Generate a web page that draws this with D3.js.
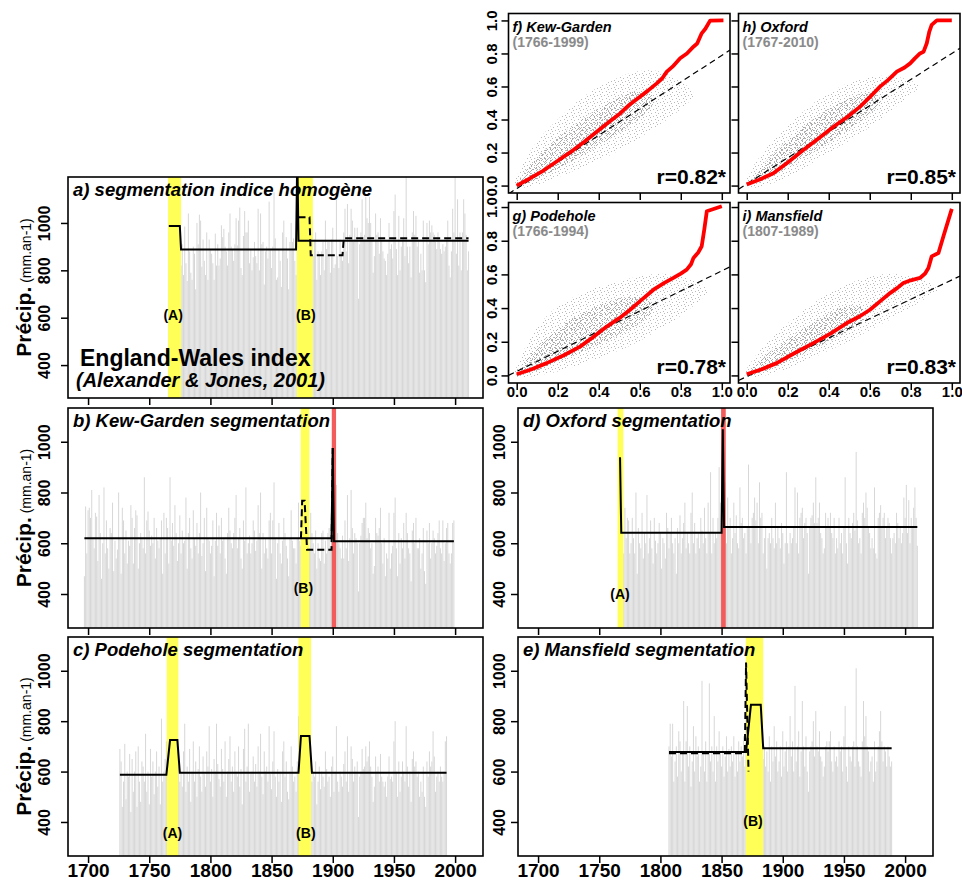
<!DOCTYPE html>
<html><head><meta charset="utf-8">
<script src="https://cdn.jsdelivr.net/npm/d3@7"></script>
<style>body{margin:0;background:#fff}svg{display:block}text{font-family:"Liberation Sans",Arial,Helvetica,sans-serif}</style>
</head><body><svg id="c" width="962" height="889"></svg>
<script>
// ---------------- DATA ----------------
const yearTicks = [1700, 1750, 1800, 1850, 1900, 1950, 2000];
const precipTicks = [400, 600, 800, 1000];
const probTicks = [0, 0.2, 0.4, 0.6, 0.8, 1.0];

// England-Wales index, annual precipitation (mm), 1766-2011
const ewStart = 1766;
const ewPrecip = [
960,1010,1075,990,1040,880,1020,1000,935,960,
820,910,780,985,830,755,1040,880,790,760,
900,870,720,1000,910,1035,1010,815,930,840,
780,960,760,930,885,870,830,760,955,820,
910,820,850,990,940,975,900,880,820,960,
1040,900,890,840,910,1020,905,1010,1065,810,
780,945,1050,960,960,1010,830,890,800,855,
920,860,830,1060,800,1040,910,920,740,880,
900,850,1090,890,810,900,1130,935,760,770,
890,840,730,960,1010,880,940,850,720,920,
1000,920,935,840,780,1290,1150,1010,960,1060,
990,1120,960,990,1040,930,1110,1010,860,930,
960,760,880,870,780,880,920,800,1010,890,
920,920,790,930,980,810,825,1100,860,810,
930,870,840,960,1060,880,1080,830,950,1060,
1010,920,980,940,980,680,910,960,1100,940,
950,1110,1020,1000,1110,1000,930,790,860,1040,
950,960,870,1020,930,880,850,840,780,870,
1000,890,910,850,1050,1120,890,780,1030,800,
900,930,1020,860,1200,900,830,900,770,960,
1050,950,1030,900,930,790,870,800,1010,800,
750,1000,910,1010,960,990,960,950,920,890,
960,920,890,870,910,880,900,930,1010,820,
770,880,1060,960,1230,870,1100,820,960,800,
960,1100,1040,950,800,880];
const ewSolid = [[1766,987],[1775,987],[1776,888],[1870,888],[1871,1290],[1872,925],[2011,925]];
const ewDashed = [[1872,1024],[1881,1024],[1882,864],[1908,864],[1909,935],[2011,935]];
const ewYellow = [[1765.4,1776],[1870.6,1883.7]];
const ewRed = [];
const ewLabels = [["(A)",1769.5,611],["(B)",1878,611]];

// Kew-Garden, 1697-1999
const kewStart = 1697;
const kewPrecip = [
470,745,560,730,740,700,810,620,580,720,
705,530,790,640,460,600,820,560,690,580,
500,660,640,760,490,610,540,575,800,620,
480,740,690,560,650,520,610,590,750,700,
520,660,730,710,500,600,640,620,580,860,
560,690,725,650,590,630,600,700,540,660,
610,580,620,690,480,720,560,700,660,520,
860,610,680,590,750,640,530,600,710,560,
650,600,610,780,500,640,700,580,540,730,
620,590,680,560,640,800,550,600,700,490,
740,620,610,560,590,690,470,610,720,590,
670,560,700,610,620,540,480,640,740,650,
600,580,640,700,790,580,620,660,540,500,
690,610,820,560,600,630,560,600,690,650,
570,610,750,640,800,500,640,560,620,580,
540,690,720,560,690,840,620,460,600,680,
560,520,610,700,640,590,540,470,620,730,
610,580,580,520,620,760,610,590,760,780,
760,610,650,710,580,720,640,600,560,650,
500,600,540,530,640,650,520,610,560,640,
660,580,650,975,610,490,830,640,600,580,
540,630,540,690,580,790,530,620,810,660,
560,640,620,600,410,600,630,680,700,700,
760,620,660,640,580,600,480,510,700,640,
630,660,740,600,520,620,470,560,540,720,
500,560,590,720,780,580,470,640,520,620,
580,680,540,720,640,580,560,450,650,680,
600,700,580,580,620,500,560,660,490,440,
650,600,680,540,600,650,620,560,590,640,
690,580,560,690,530,600,660,680,560,520,
560,680,690];
const kewSolid = [[1697,620],[1899,620],[1900,975],[1901,608],[1999,608]];
const kewDashed = [[1874,620],[1875,767],[1877,767],[1879,574],[1899,574],[1900,975]];
const kewYellow = [[1873.8,1880.9]];
const kewRed = [[1899.2,1902.7]];
const kewLabels = [["(B)",1876,425]];

// Podehole, 1726-1993
const podStart = 1726;
const podPrecip = [
690,640,460,560,710,490,600,580,670,440,
650,520,600,680,460,700,560,480,640,620,
560,750,520,600,470,690,580,640,510,600,
680,540,620,470,810,560,600,650,720,560,
700,780,870,720,690,760,640,730,620,560,
590,540,680,790,520,620,560,690,480,600,
720,560,640,500,610,700,580,520,660,590,
540,680,620,780,560,610,500,650,600,790,
630,570,540,690,610,560,720,500,600,650,
740,560,620,520,680,600,580,700,540,610,
470,690,770,560,620,790,520,590,600,660,
560,630,540,700,600,750,580,510,680,600,
620,560,780,590,530,640,760,580,500,610,
560,600,480,680,720,580,640,520,490,600,
700,620,560,580,520,640,820,690,760,830,
720,950,800,760,720,640,700,560,600,580,
640,470,560,620,530,600,580,540,680,610,
560,580,500,620,660,520,600,780,560,520,
600,580,540,630,680,560,740,520,600,700,
650,560,620,600,640,420,580,600,690,610,
620,700,640,660,720,620,580,480,540,660,
600,620,560,670,580,560,540,560,500,580,
660,570,580,560,720,800,600,500,640,520,
580,640,600,560,780,620,540,600,480,650,
680,620,640,580,600,500,560,520,620,500,
460,640,580,680,620,640,760,660,520,580,
600,560,620,580,560,600,720,740];
const podSolid = [[1726,587],[1764,587],[1767,725],[1773,725],[1775,595],[1872,595],[1874,741],[1881,741],[1883,595],[1993,595]];
const podDashed = [];
const podYellow = [[1764.3,1773.8],[1872,1882.3]];
const podRed = [];
const podLabels = [["(A)",1769,354],["(B)",1878,354]];

// Oxford, 1767-2010
const oxStart = 1767;
const oxPrecip = [
940,650,780,560,740,620,700,690,560,600,
700,620,560,800,480,660,600,580,720,540,
640,600,790,560,620,690,580,520,700,610,
560,600,680,640,500,620,600,540,720,660,
580,640,700,600,560,620,480,660,600,710,
560,620,680,760,580,640,600,560,720,800,
600,680,560,620,640,580,700,650,600,740,
620,560,760,640,880,560,700,600,640,620,
700,900,760,580,1050,760,840,600,780,660,
700,560,620,760,640,710,600,580,820,680,
700,620,640,560,660,910,660,600,700,720,
780,690,760,600,840,700,720,560,620,660,
500,620,640,600,700,620,580,760,600,660,
620,580,680,640,520,600,880,600,560,640,
600,620,660,820,600,800,560,700,720,740,
620,680,700,640,480,660,700,710,760,680,
860,680,700,760,640,620,560,580,720,660,
700,660,720,640,620,700,560,620,580,700,
600,640,560,660,860,600,520,700,640,620,
680,720,650,960,690,600,620,560,720,760,
700,800,740,660,640,580,620,580,820,560,
540,700,720,750,660,700,720,620,660,700,
680,620,560,620,640,600,720,680,620,660,
600,640,780,700,830,640,770,600,700,660,
740,820,700,590];
const oxSolid = [[1767,939],[1768,641],[1850,641],[1851,1049],[1852,664],[2010,664]];
const oxDashed = [];
const oxYellow = [[1765,1769.7]];
const oxRed = [[1849.6,1853.4]];
const oxLabels = [["(A)",1767,399]];

// Mansfield, 1807-1989
const manStart = 1807;
const manPrecip = [
700,790,660,790,560,640,700,580,760,720,
600,680,880,560,720,860,620,700,540,640,
780,600,740,660,700,560,620,960,680,600,
720,560,680,950,640,700,600,820,560,700,
640,760,680,620,700,580,660,740,600,690,
620,700,640,740,580,680,600,720,640,700,
660,740,620,1030,600,610,760,900,860,820,
940,800,880,840,900,870,720,650,700,620,
680,600,740,560,700,640,780,660,720,600,
640,700,580,760,620,680,720,600,700,820,
660,720,600,940,640,700,760,580,680,880,
700,620,740,600,520,680,700,720,800,660,
840,700,680,760,660,640,580,620,700,720,
680,720,760,640,600,700,640,660,620,720,
680,700,600,740,860,620,560,700,660,640,
700,720,620,1010,700,640,620,580,720,880,
740,820,700,680,600,640,660,560,720,600,
640,700,760,840,720,640,700,680,620,700,
660,620,640];
const manSolid = [[1807,678],[1870,678],[1874,865],[1882,865],[1884,693],[1989,693]];
const manDashed = [[1807,673],[1869,673],[1870,1033],[1872,600]];
const manYellow = [[1869.8,1884]];
const manRed = [];
const manLabels = [["(B)",1875.7,404]];

// Scatter / quantile panels: red curves (x, y)
const kewCurve = [[0,0],[0.06,0.04],[0.122,0.084],[0.2,0.15],[0.276,0.215],[0.33,0.265],[0.39,0.326],[0.45,0.385],[0.504,0.437],[0.55,0.49],[0.601,0.538],[0.64,0.575],[0.683,0.619],[0.71,0.65],[0.732,0.69],[0.76,0.72],[0.797,0.771],[0.83,0.8],[0.862,0.841],[0.88,0.86],[0.902,0.922],[0.92,0.95],[0.943,0.999],[1.008,1.0]];
const oxCurve = [[0,0.007],[0.06,0.035],[0.13,0.074],[0.2,0.14],[0.276,0.215],[0.35,0.285],[0.423,0.356],[0.49,0.415],[0.553,0.478],[0.6,0.535],[0.65,0.599],[0.69,0.64],[0.732,0.69],[0.77,0.715],[0.797,0.74],[0.82,0.77],[0.845,0.8],[0.862,0.81],[0.878,0.862],[0.89,0.93],[0.902,0.973],[0.927,1.0],[1.0,1.0]];
const podCurve = [[0,0.007],[0.07,0.035],[0.146,0.073],[0.23,0.12],[0.309,0.171],[0.37,0.225],[0.439,0.29],[0.5,0.34],[0.553,0.39],[0.61,0.45],[0.667,0.509],[0.72,0.55],[0.764,0.579],[0.8,0.605],[0.829,0.628],[0.85,0.66],[0.862,0.698],[0.885,0.73],[0.902,0.767],[0.915,0.87],[0.927,0.975],[1.0,1.005]];
const manCurve = [[0,0.007],[0.07,0.035],[0.146,0.073],[0.23,0.13],[0.325,0.192],[0.41,0.25],[0.488,0.311],[0.55,0.35],[0.601,0.39],[0.65,0.44],[0.699,0.489],[0.735,0.52],[0.764,0.549],[0.8,0.565],[0.845,0.579],[0.87,0.605],[0.886,0.638],[0.902,0.707],[0.935,0.727],[0.96,0.83],[1.0,0.989]];
// dashed reference lines [intercept, slope]
const kewFit = [-0.018, 0.806];
const oxFit = [0.01, 0.79];
const podFit = [0.024, 0.597];
const manFit = [-0.007, 0.574];
// point clouds, envelopes [x, low, high]
const kewCloudOuter = [[-0.01,0.0,0.02],[0.02,-0.02,0.12],[0.1,0.0,0.28],[0.2,0.05,0.4],[0.3,0.1,0.52],[0.4,0.15,0.6],[0.5,0.21,0.66],[0.6,0.29,0.7],[0.7,0.37,0.7],[0.8,0.46,0.64],[0.86,0.53,0.57]];
const kewCloudCore = [[0.0,0.01,0.02],[0.04,0.0,0.08],[0.1,0.04,0.18],[0.2,0.1,0.29],[0.3,0.17,0.39],[0.4,0.24,0.47],[0.5,0.32,0.54],[0.6,0.4,0.59],[0.67,0.5,0.54]];
const oxCloudOuter = [[-0.01,0.0,0.02],[0.02,-0.02,0.1],[0.1,0.0,0.24],[0.2,0.05,0.36],[0.3,0.12,0.48],[0.4,0.2,0.56],[0.5,0.27,0.63],[0.6,0.35,0.66],[0.7,0.45,0.67],[0.8,0.55,0.64],[0.84,0.59,0.61]];
const oxCloudCore = [[0.02,0.03,0.04],[0.05,0.01,0.08],[0.1,0.04,0.16],[0.2,0.11,0.28],[0.3,0.18,0.38],[0.4,0.26,0.47],[0.5,0.34,0.53],[0.6,0.43,0.58],[0.65,0.49,0.53]];
const podCloudOuter = [[-0.01,0.0,0.02],[0.02,-0.02,0.12],[0.1,0.0,0.3],[0.2,0.02,0.42],[0.3,0.06,0.48],[0.4,0.1,0.53],[0.5,0.15,0.56],[0.6,0.2,0.59],[0.7,0.28,0.61],[0.8,0.35,0.59],[0.9,0.45,0.55],[0.93,0.49,0.51]];
const podCloudCore = [[0.02,0.03,0.05],[0.05,0.0,0.1],[0.1,0.03,0.18],[0.2,0.08,0.28],[0.3,0.13,0.36],[0.4,0.18,0.42],[0.5,0.24,0.46],[0.6,0.3,0.48],[0.67,0.38,0.43]];
const manCloudOuter = [[-0.01,0.0,0.02],[0.02,-0.02,0.08],[0.1,0.0,0.21],[0.2,0.04,0.31],[0.3,0.09,0.41],[0.4,0.15,0.49],[0.5,0.2,0.55],[0.6,0.27,0.59],[0.7,0.33,0.61],[0.8,0.4,0.59],[0.9,0.48,0.55],[0.93,0.5,0.52]];
const manCloudCore = [[0.02,0.02,0.04],[0.05,0.0,0.07],[0.1,0.03,0.13],[0.2,0.08,0.22],[0.3,0.14,0.3],[0.4,0.2,0.37],[0.5,0.26,0.43],[0.57,0.33,0.4]];

// ---------------- DRAWING ----------------
const svg = d3.select("#c");
const defs = svg.append("defs");
function speckle(id, size, dots, color){
  const p = defs.append("pattern").attr("id",id).attr("width",size).attr("height",size).attr("patternUnits","userSpaceOnUse");
  dots.forEach(d => p.append("rect").attr("x",d[0]).attr("y",d[1]).attr("width",1).attr("height",1).attr("fill",color));
}
speckle("sp7", 7, [[0,1],[4,0],[2,4],[6,5],[5,3]], "#b9b9b9");
speckle("sp5", 5, [[1,0],[4,2],[0,3],[2,4]], "#ababab");
speckle("sp11", 11, [[3,1],[8,2],[0,6],[6,7],[10,9],[2,10],[5,4]], "#a4a4a4");

const yearDomain = [1683.6, 2022.8];

const tsPanels = [
  {id:"a", title:"a) segmentation indice homogène", start:ewStart, values:ewPrecip, solid:ewSolid, dashed:ewDashed, yellow:ewYellow, red:ewRed, labels:ewLabels, box:[68,483,177,398], ydom:[261,1194], ylab:true, xlab:false, tickX:50},
  {id:"b", title:"b) Kew-Garden segmentation", start:kewStart, values:kewPrecip, solid:kewSolid, dashed:kewDashed, yellow:kewYellow, red:kewRed, labels:kewLabels, box:[68,483,408,628], ydom:[266,1133], ylab:true, xlab:false, tickX:50},
  {id:"c", title:"c) Podehole segmentation", start:podStart, values:podPrecip, solid:podSolid, dashed:podDashed, yellow:podYellow, red:podRed, labels:podLabels, box:[68,483,637,856], ydom:[265,1134], ylab:true, xlab:true, tickX:50},
  {id:"d", title:"d) Oxford segmentation", start:oxStart, values:oxPrecip, solid:oxSolid, dashed:oxDashed, yellow:oxYellow, red:oxRed, labels:oxLabels, box:[518,933,408,628], ydom:[266,1133], ylab:false, xlab:false, tickX:505},
  {id:"e", title:"e) Mansfield segmentation", start:manStart, values:manPrecip, solid:manSolid, dashed:manDashed, yellow:manYellow, red:manRed, labels:manLabels, box:[518,933,637,856], ydom:[265,1134], ylab:false, xlab:true, tickX:505}
];

function tsPanel(p){
  const [x0,x1,y0,y1] = p.box;
  const x = d3.scaleLinear().domain(yearDomain).range([x0,x1]);
  const y = d3.scaleLinear().domain(p.ydom).range([y1,y0]);
  defs.append("clipPath").attr("id","clip"+p.id).append("rect")
    .attr("x",x0).attr("y",y0).attr("width",x1-x0).attr("height",y1-y0);
  const g = svg.append("g");
  const inner = g.append("g").attr("clip-path",`url(#clip${p.id})`);
  inner.selectAll("line.bar").data(p.values).join("line").attr("class","bar")
    .attr("x1",(d,i)=>x(p.start+i)).attr("x2",(d,i)=>x(p.start+i))
    .attr("y1",y1).attr("y2",d=>y(d))
    .attr("stroke","#d7d7d7").attr("stroke-width",1);
  inner.selectAll("rect.yb").data(p.yellow).join("rect")
    .attr("x",d=>x(d[0])).attr("width",d=>x(d[1])-x(d[0]))
    .attr("y",y0).attr("height",y1-y0).attr("fill","#ffff57");
  inner.selectAll("rect.rb").data(p.red).join("rect")
    .attr("x",d=>x(d[0])).attr("width",d=>x(d[1])-x(d[0]))
    .attr("y",y0).attr("height",y1-y0).attr("fill","#f25c5c");
  inner.selectAll("text.lab").data(p.labels).join("text")
    .attr("x",d=>x(d[1])).attr("y",d=>y(d[2])).attr("dy","0.35em")
    .attr("text-anchor","middle").attr("font-size",14).attr("font-weight","bold").text(d=>d[0]);
  if(p.id==="a"){
    g.append("text").attr("x",80).attr("y",366).attr("font-size",23).attr("font-weight","bold").text("England-Wales index");
    g.append("text").attr("x",76).attr("y",387).attr("font-size",20).attr("font-weight","bold").attr("font-style","italic").text("(Alexander & Jones, 2001)");
  }
  const line = d3.line().x(d=>x(d[0])).y(d=>y(d[1]));
  if(p.dashed.length) inner.append("path").attr("d",line(p.dashed)).attr("fill","none")
    .attr("stroke","#000").attr("stroke-width",2).attr("stroke-dasharray","7,4");
  inner.append("path").attr("d",line(p.solid)).attr("fill","none")
    .attr("stroke","#000").attr("stroke-width",2);
  g.append("text").attr("x",x0+5).attr("y",y0+19).attr("font-size",18.5)
    .attr("font-weight","bold").attr("font-style","italic").text(p.title);
  g.append("rect").attr("x",x0).attr("y",y0).attr("width",x1-x0).attr("height",y1-y0)
    .attr("fill","none").attr("stroke","#000").attr("stroke-width",1.6);
  const ya = g.append("g").attr("transform",`translate(${x0},0)`)
    .call(d3.axisLeft(y).tickValues(precipTicks).tickSize(7).tickFormat(d3.format("d")));
  ya.select(".domain").remove();
  ya.selectAll("line").attr("stroke","#000").attr("stroke-width",1.5);
  ya.selectAll("text").attr("x",null).attr("dy",null).attr("text-anchor","middle")
    .attr("transform",`translate(${p.tickX - x0},0) rotate(-90)`)
    .attr("font-size",16).attr("font-weight","bold").attr("fill","#000")
    .style("font-family",'"Liberation Sans",Arial,sans-serif');
  const xa = g.append("g").attr("transform",`translate(0,${y1})`)
    .call(d3.axisBottom(x).tickValues(yearTicks).tickSize(7).tickFormat(d3.format("d")));
  xa.select(".domain").remove();
  xa.selectAll("line").attr("stroke","#000").attr("stroke-width",1.5);
  if(p.xlab){
    xa.selectAll("text").attr("y",21).attr("dy",null).attr("font-size",19)
      .attr("font-weight","bold").attr("fill","#000").style("font-family",'"Liberation Sans",Arial,sans-serif');
  } else xa.selectAll("text").remove();
  if(p.ylab){
    const cy = (y0+y1)/2;
    const t = g.append("text").attr("transform",`translate(31,${cy}) rotate(-90)`).attr("text-anchor","middle");
    t.append("tspan").attr("font-size",21).attr("font-weight","bold").text("Précip.");
    t.append("tspan").attr("font-size",14).text(" (mm.an-1)");
  }
}
tsPanels.forEach(tsPanel);

const scPanels = [
  {id:"f", title:"f) Kew-Garden", period:"(1766-1999)", r:"r=0.82*", curve:kewCurve, fit:kewFit, outer:kewCloudOuter, core:kewCloudCore, box:[508.5,730,13.5,193], ydom:[-0.045,1.042], ylab:true, xlab:false},
  {id:"h", title:"h) Oxford", period:"(1767-2010)", r:"r=0.85*", curve:oxCurve, fit:oxFit, outer:oxCloudOuter, core:oxCloudCore, box:[738.5,960,13.5,193], ydom:[-0.045,1.042], ylab:false, xlab:false},
  {id:"g", title:"g) Podehole", period:"(1766-1994)", r:"r=0.78*", curve:podCurve, fit:podFit, outer:podCloudOuter, core:podCloudCore, box:[508.5,730,202.5,383], ydom:[-0.045,1.027], ylab:true, xlab:true},
  {id:"i", title:"i) Mansfield", period:"(1807-1989)", r:"r=0.83*", curve:manCurve, fit:manFit, outer:manCloudOuter, core:manCloudCore, box:[738.5,960,202.5,383], ydom:[-0.045,1.027], ylab:false, xlab:true}
];

function scPanel(p){
  const [x0,x1,y0,y1] = p.box;
  const x = d3.scaleLinear().domain([-0.04,1.04]).range([x0,x1]);
  const y = d3.scaleLinear().domain(p.ydom).range([y1,y0]);
  defs.append("clipPath").attr("id","clip"+p.id).append("rect")
    .attr("x",x0).attr("y",y0).attr("width",x1-x0).attr("height",y1-y0);
  const g = svg.append("g");
  g.append("rect").attr("x",x0).attr("y",y0).attr("width",x1-x0).attr("height",y1-y0).attr("fill","#fff");
  const inner = g.append("g").attr("clip-path",`url(#clip${p.id})`);
  const area = d3.area().x(d=>x(d[0])).y0(d=>y(d[1])).y1(d=>y(d[2])).curve(d3.curveBasis);
  inner.append("path").attr("d",area(p.outer)).attr("fill","url(#sp7)");
  inner.append("path").attr("d",area(p.core)).attr("fill","url(#sp5)");
  inner.append("path").attr("d",area(p.core)).attr("fill","url(#sp11)");
  inner.append("line").attr("x1",x(-0.04)).attr("y1",y(p.fit[0]+p.fit[1]*-0.04))
    .attr("x2",x(1.04)).attr("y2",y(p.fit[0]+p.fit[1]*1.04))
    .attr("stroke","#000").attr("stroke-width",1.2).attr("stroke-dasharray","6,4");
  inner.append("path").attr("d",d3.line().x(d=>x(d[0])).y(d=>y(d[1]))(p.curve))
    .attr("fill","none").attr("stroke","#ff0000").attr("stroke-width",3.8).attr("stroke-linejoin","round");
  g.append("text").attr("x",x0+4).attr("y",y0+18).attr("font-size",14.5).attr("font-weight","bold").attr("font-style","italic").text(p.title);
  g.append("text").attr("x",x0+4).attr("y",y0+33).attr("font-size",14).attr("font-weight","bold").attr("fill","#8a8a8a").text(p.period);
  g.append("text").attr("x",x1-4).attr("y",y1-9).attr("text-anchor","end").attr("font-size",21).attr("font-weight","bold").text(p.r);
  g.append("rect").attr("x",x0).attr("y",y0).attr("width",x1-x0).attr("height",y1-y0)
    .attr("fill","none").attr("stroke","#000").attr("stroke-width",1.6);
  const ya = g.append("g").attr("transform",`translate(${x0},0)`)
    .call(d3.axisLeft(y).tickValues(probTicks).tickSize(7).tickFormat(d3.format(".1f")));
  ya.select(".domain").remove();
  ya.selectAll("line").attr("stroke","#000").attr("stroke-width",1.5);
  if(p.ylab){
    ya.selectAll("text").attr("x",null).attr("dy",null).attr("text-anchor","middle")
      .attr("transform",`translate(${497 - x0},0) rotate(-90)`)
      .attr("font-size",15).attr("font-weight","bold").attr("fill","#000")
      .style("font-family",'"Liberation Sans",Arial,sans-serif');
  } else ya.selectAll("text").remove();
  const xa = g.append("g").attr("transform",`translate(0,${y1})`)
    .call(d3.axisBottom(x).tickValues(probTicks).tickSize(7).tickFormat(d3.format(".1f")));
  xa.select(".domain").remove();
  xa.selectAll("line").attr("stroke","#000").attr("stroke-width",1.5);
  if(p.xlab){
    xa.selectAll("text").attr("y",14).attr("dy",null).attr("font-size",15)
      .attr("font-weight","bold").attr("fill","#000").style("font-family",'"Liberation Sans",Arial,sans-serif');
  } else xa.selectAll("text").remove();
}
scPanels.forEach(scPanel);
</script>
</body></html>
